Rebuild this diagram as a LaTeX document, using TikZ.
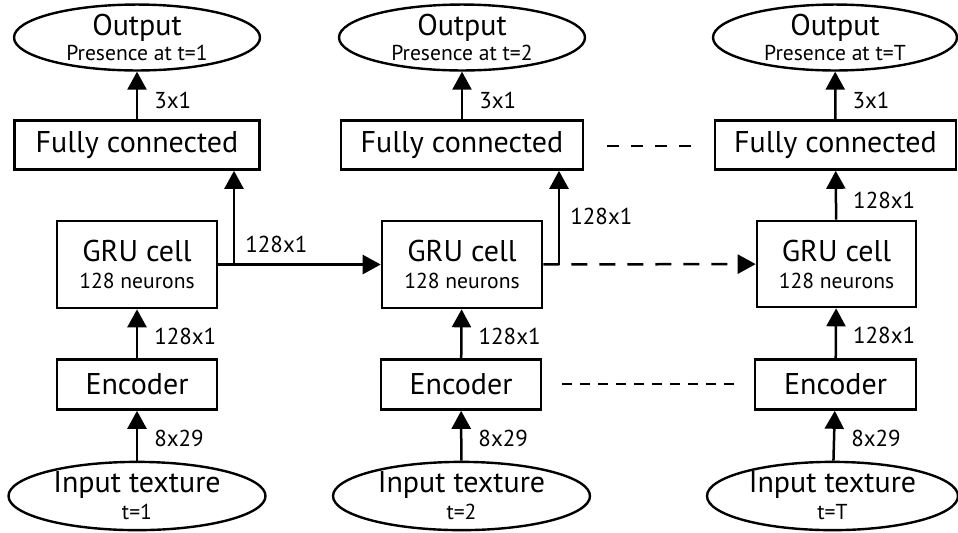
\documentclass[tikz,border=0pt]{standalone}
\usepackage{fontspec}
\setmainfont{PT Sans}
\usetikzlibrary{shapes.geometric,arrows.meta}

\tikzset{
	block/.style={draw, line width=1.3pt, inner sep=0pt, align=center,
		font=\fontsize{15pt}{13.5pt}\selectfont},
	oval/.style={ellipse, draw, line width=1.2pt, inner sep=0pt, align=center,
		font=\fontsize{15pt}{12.5pt}\selectfont},
	link/.style={line width=1.25pt, -{Triangle[width=9.5pt,length=9pt]}},
	gap/.style={line width=1.25pt, dash pattern=on 6pt off 6pt},
	dim/.style={anchor=west, inner sep=0pt, font=\fontsize{11.5pt}{12pt}\selectfont},
}
\newcommand{\sub}[1]{{\fontsize{10.8pt}{12.5pt}\selectfont #1}}

\begin{document}
\begin{tikzpicture}[x=0.5pt,y=-0.5pt]
	\useasboundingbox (0,0) rectangle (958,532);
	% t = 1
	\node (out1) at (137, 37.5)	[oval, minimum width=123pt, minimum height=32.5pt]	{Output\\\sub{Presence at t=1}};
	\node (fc1)  at (137,145)	[block, minimum width=122.5pt, minimum height=24.5pt]	{Fully connected};
	\node (gru1) at (137,264.5)	[block, minimum width=80pt, minimum height=43.5pt]	{GRU cell\\\sub{128 neurons}};
	\node (enc1) at (137,384.5)	[block, minimum width=80pt, minimum height=25pt]	{Encoder};
	\node (in1)  at (137,496)	[oval, minimum width=128.5pt, minimum height=34pt, font=\fontsize{15pt}{13.5pt}\selectfont]	{Input texture\\\sub{t=1}};
	% t = 2
	\node (out2) at (462, 37.5)	[oval, minimum width=123pt, minimum height=32.5pt]	{Output\\\sub{Presence at t=2}};
	\node (fc2)  at (462,145)	[block, minimum width=121pt, minimum height=24.5pt]	{Fully connected};
	\node (gru2) at (462,264.5)	[block, minimum width=80pt, minimum height=43.5pt]	{GRU cell\\\sub{128 neurons}};
	\node (enc2) at (461,384.5)	[block, minimum width=80pt, minimum height=25pt]	{Encoder};
	\node (in2)  at (461.5,496)	[oval, minimum width=128.5pt, minimum height=34pt, font=\fontsize{15pt}{13.5pt}\selectfont]	{Input texture\\\sub{t=2}};
	% t = T
	\node (out3) at (835, 37.5)	[oval, minimum width=122pt, minimum height=32.5pt]	{Output\\\sub{Presence at t=T}};
	\node (fc3)  at (835.5,145)	[block, minimum width=120.5pt, minimum height=24.5pt]	{Fully connected};
	\node (gru3) at (836.5,264)	[block, minimum width=79.5pt, minimum height=43pt]	{GRU cell\\\sub{128 neurons}};
	\node (enc3) at (835.5,384.5)	[block, minimum width=80.5pt, minimum height=25pt]	{Encoder};
	\node (in3)  at (832.5,496)	[oval, minimum width=125.5pt, minimum height=34pt, font=\fontsize{15pt}{13.5pt}\selectfont]	{Input texture\\\sub{t=T}};
	% branch points
	\coordinate (b1) at (234,264.5);
	\coordinate (b2) at (559,264.5);
	\draw[link] (in1) -- node[dim, right=8pt, pos=0.45] {8x29} (enc1);
	\draw[link] (enc1) -- node[dim, right=8pt, pos=0.45] {128x1} (gru1);
	\draw[link] (fc1) -- node[dim, right=8pt, pos=0.4] {3x1} (out1);
	\draw[link] (gru1) -- (gru2);
	\draw[link] (b1) -- (b1 |- fc1.south);
	\node[dim] (h1) at (245,244) {128x1};
	\draw[link] (in2) -- node[dim, right=8pt, pos=0.45] {8x29} (enc2);
	\draw[link] (enc2) -- node[dim, right=8pt, pos=0.45] {128x1} (gru2);
	\draw[link] (fc2) -- node[dim, right=8pt, pos=0.4] {3x1} (out2);
	\draw[link, dash pattern=on 8pt off 6pt] (gru2) -- (gru3);
	\draw[link] (b2) -- (b2 |- fc2.south);
	\node[dim] (h2) at (570,216) {128x1};
	\draw[link] (in3) -- node[dim, right=8pt, pos=0.45] {8x29} (enc3);
	\draw[link] (enc3) -- node[dim, right=8pt, pos=0.45] {128x1} (gru3);
	\draw[link] (gru3) -- node[dim, right=8pt, pos=0.4] {128x1} (fc3);
	\draw[link] (fc3) -- node[dim, right=8pt, pos=0.4] {3x1} (out3);
	% skipped steps
	\draw[gap] (607,146) -- (693,146);
	\draw[gap, dash pattern=on 5pt off 4pt] (562,384) -- (734,384);
\end{tikzpicture}
\end{document}
